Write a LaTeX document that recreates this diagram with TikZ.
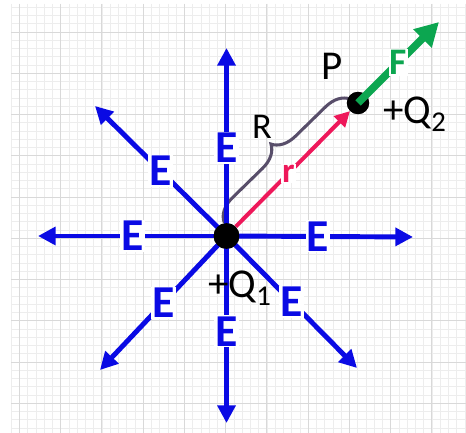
\documentclass[tikz,border=0pt]{standalone}
\usepackage{fontspec}
\setmainfont{Carlito}
\usetikzlibrary{arrows.meta,decorations.pathreplacing}
\definecolor{fieldblue}{RGB}{10,10,228}
\definecolor{radred}{RGB}{238,24,90}
\definecolor{forcegreen}{RGB}{12,166,80}
\definecolor{bracegray}{RGB}{88,78,106}
\tikzset{
  gridminor/.style={gray!14,line width=0.4pt},
  gridmajor/.style={gray!30,line width=0.5pt},
  fieldline/.style={fieldblue,line width=4.2pt,-{Triangle[length=15pt,width=15pt]}},
  elabel/.style={text=fieldblue,fill=white,inner sep=1pt,font=\fontsize{39}{39}\selectfont\bfseries},
  charge/.style={circle,fill=black,inner sep=0pt},
  blacklabel/.style={text=black,inner sep=0pt,font=\fontsize{35}{35}\selectfont},
}
\begin{document}
\begin{tikzpicture}[x=0.03cm,y=-0.03cm]
	\useasboundingbox (0,0) rectangle (466,433);
	\fill [white] (0,0) rectangle (466,433);
	\foreach \i in {0,...,55}
		\draw [gridminor] ({11+\i*8.25},4) -- ({11+\i*8.25},433);
	\foreach \j in {0,...,51}
		\draw [gridminor] (11,{7+\j*8.25}) -- (466,{7+\j*8.25});
	\foreach \i in {0,...,10}
		\draw [gridmajor] ({19.25+\i*41.25},4) -- ({19.25+\i*41.25},433);
	\foreach \j in {0,...,9}
		\draw [gridmajor] (11,{32+\j*41.25}) -- (466,{32+\j*41.25});
	\coordinate (eN) at (226.5,48);
	\coordinate (eS) at (226.5,423);
	\coordinate (eW) at (38,236);
	\coordinate (eE) at (413,237);
	\coordinate (eNW) at (95,106);
	\coordinate (eSW) at (100,370);
	\coordinate (eSE) at (357,368);
	\coordinate (ftip) at (439,22);
	\coordinate (braceA) at (224,222);
	\coordinate (braceB) at (350,99);
	\node [charge,minimum size=22pt] (q1) at (226.5,236) {};
	\node [charge,minimum size=19pt] (q2) at (358,103) {};
	\draw [bracegray,line width=2.6pt,line cap=round,decorate,decoration={brace,amplitude=19.6pt}] (braceA) -- (braceB);
	\draw [fieldline] (q1.center) -- node [elabel,pos=0.47] {E} (eN);
	\draw [fieldline] (q1.center) -- node [elabel,pos=0.51] {E} (eS);
	\draw [fieldline] (q1.center) -- node [elabel,pos=0.5] {E} (eW);
	\draw [fieldline] (q1.center) -- node [elabel,pos=0.49] {E} (eE);
	\draw [fieldline] (q1.center) -- node [elabel,pos=0.5] {E} (eNW);
	\draw [fieldline] (q1.center) -- node [elabel,pos=0.5] {E} (eSW);
	\draw [fieldline] (q1.center) -- node [elabel,pos=0.5] {E} (eSE);
	\draw [radred,line width=3.4pt,-{Triangle[length=13pt,width=13pt]}] (q1) -- node [text=radred,fill=white,inner sep=1pt,font=\fontsize{30}{30}\selectfont\bfseries,pos=0.46] {r} (q2);
	\node [charge,minimum size=22pt] at (q1) {};
	\node [charge,minimum size=19pt] at (q2) {};
	\draw [forcegreen,line width=6.4pt,-{Triangle[length=20pt,width=21pt]}] (q2.center) -- node [text=forcegreen,fill=white,inner sep=1pt,font=\fontsize{32}{32}\selectfont\bfseries,pos=0.5] {F} (ftip);
	\node [blacklabel] (plabel) at (332,66) {P};
	\node [blacklabel,font=\fontsize{31}{31}\selectfont] (rlabel) at (262,127) {R};
	\node [blacklabel] (q2label) at (415,114) {+Q\textsubscript{2}};
	\node [blacklabel] (q1label) at (240,288) {+Q\textsubscript{1}};
\end{tikzpicture}
\end{document}
